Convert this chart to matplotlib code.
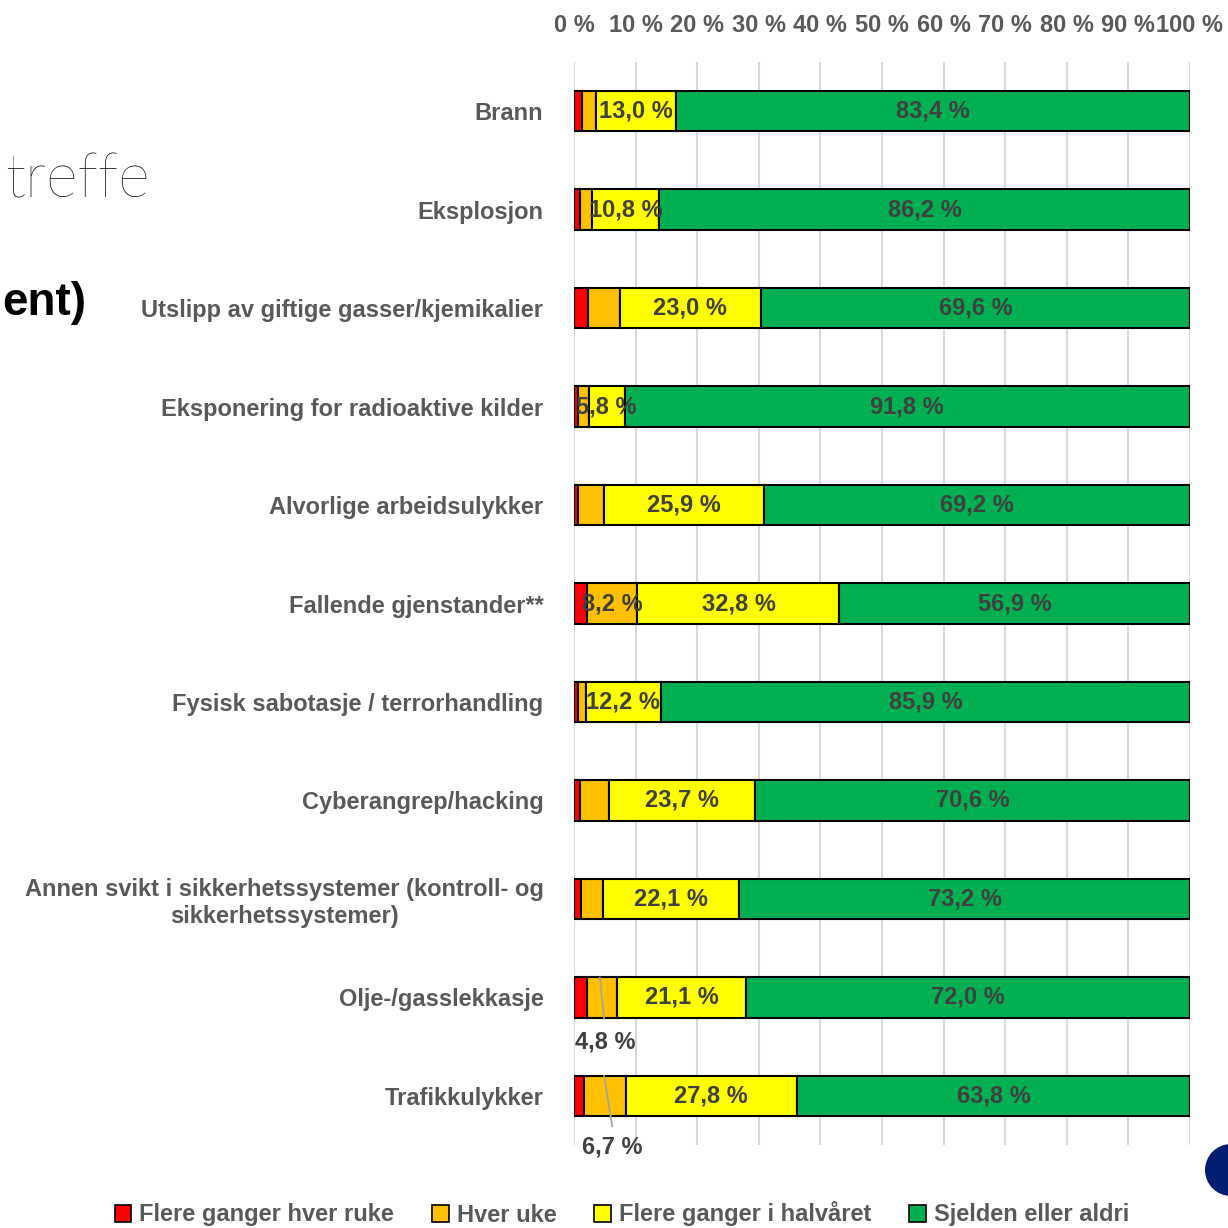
import matplotlib.pyplot as plt
from matplotlib.patches import Circle, Patch

plt.rcParams['font.family'] = ['Liberation Sans', 'DejaVu Sans']

categories = [
    'Brann',
    'Eksplosjon',
    'Utslipp av giftige gasser/kjemikalier',
    'Eksponering for radioaktive kilder',
    'Alvorlige arbeidsulykker',
    'Fallende gjenstander**',
    'Fysisk sabotasje / terrorhandling',
    'Cyberangrep/hacking',
    'Annen svikt i sikkerhetssystemer (kontroll- og\nsikkerhetssystemer)',
    'Olje-/gasslekkasje',
    'Trafikkulykker',
]
red = [1.3, 1.0, 2.2, 0.7, 0.6, 2.1, 0.6, 1.0, 1.2, 2.1, 1.7]
orange = [2.3, 2.0, 5.2, 1.7, 4.3, 8.2, 1.3, 4.7, 3.5, 4.8, 6.7]
yellow = [13.0, 10.8, 23.0, 5.8, 25.9, 32.8, 12.2, 23.7, 22.1, 21.1, 27.8]
green = [83.4, 86.2, 69.6, 91.8, 69.2, 56.9, 85.9, 70.6, 73.2, 72.0, 63.8]
series_names = ['Flere ganger hver ruke', 'Hver uke', 'Flere ganger i halvåret', 'Sjelden eller aldri']
colors = ['#FF0000', '#FFC000', '#FFFF00', '#00B050']
ticks = list(range(0, 101, 10))

label_color = '#404040'
cat_color = '#595959'
fs = 17

fig = plt.figure(figsize=(12.28, 12.28), dpi=100)
ax = fig.add_axes([574 / 1228, 83 / 1228, 616 / 1228, 1083 / 1228])

y = list(range(len(categories)))
left = [0] * len(categories)
for vals, col in zip([red, orange, yellow, green], colors):
    ax.barh(y, vals, left=left, height=0.41, color=col, edgecolor='black', linewidth=1.5, zorder=3)
    left = [a + b for a, b in zip(left, vals)]

# data labels
fmt = lambda v: f'{v:.1f} %'.replace('.', ',')
for i in y:
    start_y = red[i] + orange[i]
    ax.text(start_y + yellow[i] / 2, i, fmt(yellow[i]), ha='center', va='center',
            fontsize=fs, fontweight='bold', color=label_color, zorder=5)
    ax.text(start_y + yellow[i] + green[i] / 2, i, fmt(green[i]), ha='center', va='center',
            fontsize=fs, fontweight='bold', color=label_color, zorder=5)

# orange labels
i = 5
ax.text(red[i] + orange[i] / 2, i, fmt(orange[i]), ha='center', va='center',
        fontsize=fs, fontweight='bold', color=label_color, zorder=5)
i = 9
ax.plot([4.2, 4.9], [8.8, 9.22], color='#A6A6A6', lw=1.3, zorder=4)
ax.text(5.0, 9.45, fmt(orange[i]), ha='center', va='center',
        fontsize=fs, fontweight='bold', color=label_color, zorder=5)
i = 10
ax.plot([4.9, 6.2], [9.8, 10.31], color='#A6A6A6', lw=1.3, zorder=4, clip_on=False)
ax.text(6.2, 10.52, fmt(orange[i]), ha='center', va='center',
        fontsize=fs, fontweight='bold', color=label_color, zorder=5, clip_on=False)

ax.set_xlim(0, 100)
ax.set_ylim(10.5, -0.5)
ax.set_yticks(y)
ax.set_yticklabels(categories, fontsize=fs, fontweight='bold', color=cat_color,
                   multialignment='center')
ax.set_xticks(ticks)
ax.set_xticklabels([f'{t} %' for t in ticks], fontsize=fs, fontweight='bold', color=cat_color)
ax.xaxis.tick_top()
ax.tick_params(axis='both', length=0)
ax.tick_params(axis='y', pad=22)
ax.tick_params(axis='x', pad=18)
ax.grid(axis='x', color='#D9D9D9', lw=1.5, zorder=0)
for s in ax.spines.values():
    s.set_visible(False)

# slide remnants
fig.text(5 / 1228, 1 - 180 / 1228, 'treffe', ha='left', va='center',
         fontsize=44, fontweight='light', color='black', family='Lato')
fig.text(2 / 1228, 1 - 303 / 1228, 'ent)', ha='left', va='center',
         fontsize=33, fontweight='bold', color='black')
fig.patches.append(Circle((1231 / 1228, 1 - 1170 / 1228), 26 / 1228, transform=fig.transFigure,
                          facecolor='#001E72', edgecolor='none'))

handles = [Patch(facecolor=c, edgecolor='black', linewidth=1.2) for c in colors]
leg = fig.legend(handles, series_names, loc='center', bbox_to_anchor=(622 / 1228, 1 - 1214 / 1228),
                 ncol=4, frameon=False, fontsize=fs, handlelength=0.7, handleheight=0.7,
                 handletextpad=0.35, columnspacing=1.6)
for t in leg.get_texts():
    t.set_color(cat_color)
    t.set_fontweight('bold')

fig.savefig('out.png', dpi=100)
